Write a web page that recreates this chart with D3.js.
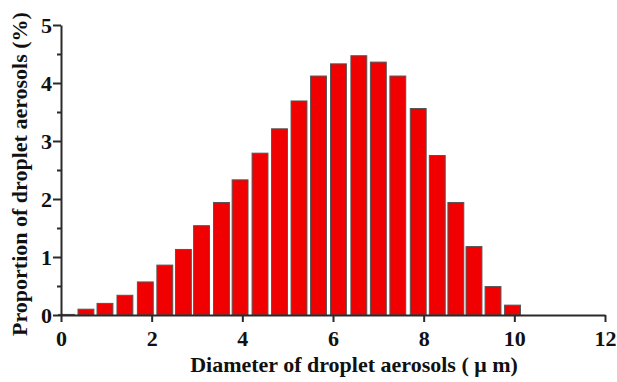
<!DOCTYPE html>
<html>
<head>
<meta charset="utf-8">
<script src="https://cdn.jsdelivr.net/npm/d3@7"></script>
<style>
  html, body { margin: 0; padding: 0; background: #fff; }
  svg { display: block; }
</style>
</head>
<body>
<div id="chart"></div>
<script>
// Bar centres (µm) and proportions (%)
const diameters = [0.12, 0.55, 0.97, 1.41, 1.86, 2.29, 2.7, 3.1, 3.54, 3.95, 4.39, 4.82, 5.25,
  5.68, 6.12, 6.57, 7.0, 7.43, 7.88, 8.3, 8.71, 9.11, 9.53, 9.96];
const proportions = [0.01, 0.1, 0.2, 0.34, 0.57, 0.86, 1.13, 1.54, 1.94, 2.33, 2.79, 3.21, 3.69,
  4.12, 4.33, 4.47, 4.36, 4.12, 3.56, 2.75, 1.94, 1.18, 0.49, 0.17];
const xTicks = [0, 2, 4, 6, 8, 10, 12];
const yTicks = [0, 1, 2, 3, 4, 5];
const yMinorTicks = [0.5, 1.5, 2.5, 3.5, 4.5];
const xLabel = 'Diameter of droplet aerosols ( μ m)';
const yLabel = 'Proportion of droplet aerosols (%)';

const WIDTH = 617;
const HEIGHT = 382;
const margin = { top: 25, right: 12, bottom: 67, left: 61 };
const BAR_WIDTH = 0.35; // in µm
const FONT = '"Liberation Serif", "Times New Roman", serif';
const AXIS_COLOR = '#2a2a2a';

const svg = d3.select('#chart').append('svg').attr('width', WIDTH).attr('height', HEIGHT);

const x = d3.scaleLinear().domain([0, 12]).range([margin.left, WIDTH - margin.right]);
const y = d3.scaleLinear().domain([0, 5]).range([HEIGHT - margin.bottom, margin.top]);

// Bars
const bars = diameters.map((d, i) => ({ d, v: proportions[i] }));
svg.append('g')
  .selectAll('rect')
  .data(bars)
  .enter()
  .append('rect')
  .attr('x', (b) => x(b.d - BAR_WIDTH / 2))
  .attr('width', x(BAR_WIDTH) - x(0))
  .attr('y', (b) => y(b.v))
  .attr('height', (b) => y(0) - y(b.v))
  .attr('fill', '#f00000')
  .attr('stroke', '#555')
  .attr('stroke-width', 1);

// Y minor ticks
svg.append('g')
  .attr('transform', `translate(${margin.left},0)`)
  .call(d3.axisLeft(y).tickValues(yMinorTicks).tickSize(4).tickFormat(''))
  .call((g) => g.select('.domain').remove())
  .call((g) => g.selectAll('line').attr('stroke', AXIS_COLOR).attr('stroke-width', 2));

// Y axis
svg.append('g')
  .attr('transform', `translate(${margin.left},0)`)
  .call(d3.axisLeft(y).tickValues(yTicks).tickSize(8).tickSizeOuter(0).tickPadding(1).tickFormat(d3.format('d')))
  .call((g) => g.select('.domain').attr('stroke', AXIS_COLOR).attr('stroke-width', 2))
  .call((g) => g.selectAll('line').attr('stroke', AXIS_COLOR).attr('stroke-width', 2))
  .call((g) => g.selectAll('text')
    .attr('fill', '#111')
    .attr('font-family', FONT)
    .attr('font-weight', 'bold')
    .attr('font-size', 22));

// X axis
svg.append('g')
  .attr('transform', `translate(0,${y(0)})`)
  .call(d3.axisBottom(x).tickValues(xTicks).tickSize(7).tickSizeOuter(0).tickPadding(8).tickFormat(d3.format('d')))
  .call((g) => g.select('.domain').attr('stroke', AXIS_COLOR).attr('stroke-width', 2))
  .call((g) => g.selectAll('line').attr('stroke', AXIS_COLOR).attr('stroke-width', 2))
  .call((g) => g.selectAll('text')
    .attr('fill', '#111')
    .attr('font-family', FONT)
    .attr('font-weight', 'bold')
    .attr('font-size', 22));

// Axis titles
svg.append('text')
  .attr('x', 354)
  .attr('y', 372)
  .attr('text-anchor', 'middle')
  .attr('fill', '#111')
  .attr('font-family', FONT)
  .attr('font-weight', 'bold')
  .attr('font-size', 22)
  .text(xLabel);

svg.append('text')
  .attr('transform', 'translate(27,174) rotate(-90)')
  .attr('text-anchor', 'middle')
  .attr('fill', '#111')
  .attr('font-family', FONT)
  .attr('font-weight', 'bold')
  .attr('font-size', 22)
  .text(yLabel);
</script>
</body>
</html>
